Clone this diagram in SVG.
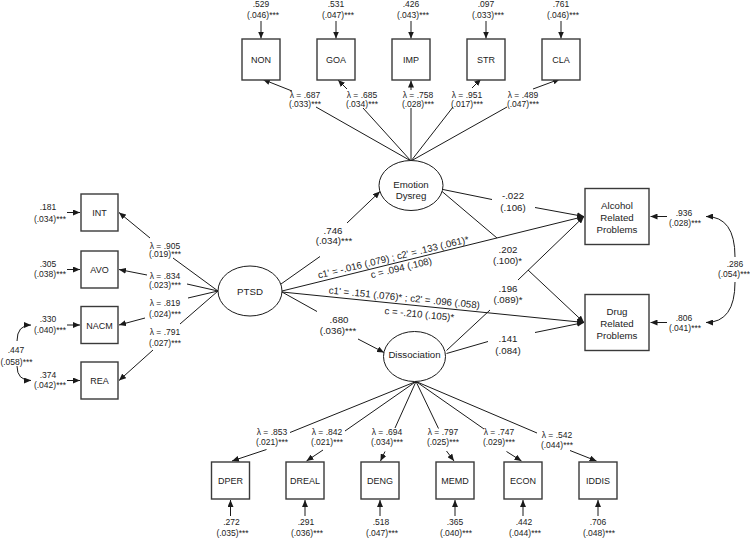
<svg xmlns="http://www.w3.org/2000/svg" width="750" height="541" viewBox="0 0 750 541">
<style>
.ln{stroke:#1a1a1a;stroke-width:1;fill:none}
.ar{marker-end:url(#ah)}
.box{fill:#fff;stroke:#3a3a3a;stroke-width:1.4}
.lat{fill:#fff;stroke:#1a1a1a;stroke-width:1}
text{font-family:"Liberation Sans",Arial,sans-serif;fill:#222;text-anchor:middle}
.s{font-size:8.5px}
.m{font-size:9.7px}
.n{font-size:9px}
.L{font-size:9.7px}
</style>
<defs>
<marker id="ah" markerUnits="userSpaceOnUse" markerWidth="7" markerHeight="6" refX="7" refY="3" orient="auto">
<path d="M0,0 L7,3 L0,6 z" fill="#1a1a1a"/>
</marker>
</defs>
<rect width="750" height="541" fill="#fff"/>

<g id="connectors">
<!-- Emotion Dysreg indicators -->
<line class="ln" x1="411" y1="161" x2="316" y2="107"/><line class="ln ar" x1="292" y1="91" x2="263" y2="79.5"/>
<line class="ln" x1="411" y1="161" x2="363" y2="108"/><line class="ln ar" x1="347" y1="89" x2="338" y2="80"/>
<line class="ln" x1="411" y1="161" x2="411" y2="108"/><line class="ln ar" x1="411" y1="90" x2="411" y2="80.5"/>
<line class="ln" x1="411" y1="161" x2="453" y2="107"/><line class="ln ar" x1="472" y1="88" x2="481" y2="79"/>
<line class="ln" x1="411" y1="161" x2="507" y2="107"/><line class="ln ar" x1="533" y1="89" x2="560" y2="79"/>
<!-- top errors -->
<line class="ln ar" x1="261" y1="21" x2="261" y2="38.5"/>
<line class="ln ar" x1="336" y1="21" x2="336" y2="38.5"/>
<line class="ln ar" x1="411" y1="21" x2="411" y2="38.5"/>
<line class="ln ar" x1="486" y1="21" x2="486" y2="38.5"/>
<line class="ln ar" x1="561" y1="21" x2="561" y2="38.5"/>
<!-- PTSD indicators -->
<line class="ln" x1="218" y1="291" x2="173" y2="258"/><line class="ln ar" x1="150" y1="238" x2="119" y2="212.5"/>
<line class="ln" x1="218" y1="291" x2="187" y2="284"/><line class="ln ar" x1="147" y1="275" x2="119" y2="269.5"/>
<line class="ln" x1="218" y1="291" x2="188" y2="298"/><line class="ln ar" x1="145" y1="318" x2="119" y2="325"/>
<line class="ln" x1="218" y1="291" x2="180" y2="324"/><line class="ln ar" x1="153" y1="350" x2="119" y2="380.5"/>
<!-- left errors -->
<line class="ln ar" x1="67" y1="212.5" x2="80" y2="212.5"/>
<line class="ln ar" x1="67" y1="269.5" x2="80" y2="269.5"/>
<line class="ln ar" x1="67" y1="325" x2="80" y2="325"/>
<line class="ln ar" x1="67" y1="380.5" x2="80" y2="380.5"/>
<path class="ln ar" d="M17,341 Q17,325 31,325"/>
<path class="ln ar" d="M17,366 Q17,380.5 31,380.5"/>
<!-- structural -->
<line class="ln" x1="281" y1="284" x2="320" y2="256.5"/><line class="ln ar" x1="347" y1="223" x2="380" y2="191.5"/>
<line class="ln" x1="282" y1="292" x2="317" y2="311.5"/><line class="ln ar" x1="358" y1="339" x2="384" y2="352.5"/>
<line class="ln ar" x1="282" y1="291" x2="584" y2="216.5"/>
<line class="ln ar" x1="282" y1="292" x2="584" y2="322.5"/>
<line class="ln" x1="443" y1="189.5" x2="492" y2="199.5"/><line class="ln ar" x1="535" y1="207.5" x2="584" y2="216.5"/>
<line class="ln" x1="441.5" y1="191" x2="497" y2="238"/><line class="ln ar" x1="528" y1="270" x2="584" y2="322.5"/>
<line class="ln" x1="446.5" y1="350.5" x2="490" y2="310"/><line class="ln ar" x1="518" y1="280" x2="584" y2="216.5"/>
<line class="ln" x1="446.5" y1="353.5" x2="488" y2="341.5"/><line class="ln ar" x1="535" y1="332.5" x2="584" y2="322.5"/>
<!-- outcome errors -->
<line class="ln ar" x1="667" y1="216.5" x2="650.5" y2="216.5"/>
<line class="ln ar" x1="667" y1="322.5" x2="650.5" y2="322.5"/>
<path class="ln ar" d="M735,257 Q735,216.5 706,216.5"/>
<path class="ln ar" d="M735,282 Q735,322.5 706,322.5"/>
<!-- Dissociation indicators -->
<line class="ln" x1="416" y1="381.5" x2="290" y2="432.5"/><line class="ln ar" x1="266.5" y1="449.5" x2="232" y2="461"/>
<line class="ln" x1="416" y1="381.5" x2="345" y2="431"/><line class="ln ar" x1="323" y1="450" x2="306.5" y2="461"/>
<line class="ln" x1="416" y1="381.5" x2="395" y2="428"/><line class="ln ar" x1="385" y1="451.5" x2="380.5" y2="461"/>
<line class="ln" x1="416" y1="381.5" x2="438.5" y2="428.5"/><line class="ln ar" x1="446.5" y1="451" x2="454" y2="461"/>
<line class="ln" x1="416" y1="381.5" x2="484" y2="429"/><line class="ln ar" x1="506.5" y1="451.5" x2="521.5" y2="461"/>
<line class="ln" x1="416" y1="381.5" x2="537" y2="433"/><line class="ln ar" x1="570" y1="450.5" x2="596.5" y2="461"/>
<!-- bottom errors -->
<line class="ln ar" x1="230.5" y1="516" x2="230.5" y2="500"/>
<line class="ln ar" x1="305" y1="516" x2="305" y2="500"/>
<line class="ln ar" x1="380" y1="516" x2="380" y2="500"/>
<line class="ln ar" x1="455" y1="516" x2="455" y2="500"/>
<line class="ln ar" x1="523" y1="516" x2="523" y2="500"/>
<line class="ln ar" x1="598" y1="516" x2="598" y2="500"/>
</g>

<g id="labels">
<!-- top errors -->
<text class="s" x="261" y="7">.529</text><text class="s" x="263" y="17.5">(.046)***</text>
<text class="s" x="336" y="7">.531</text><text class="s" x="338" y="17.5">(.047)***</text>
<text class="s" x="411" y="7">.426</text><text class="s" x="413" y="17.5">(.043)***</text>
<text class="s" x="486" y="7">.097</text><text class="s" x="488" y="17.5">(.033)***</text>
<text class="s" x="561" y="7">.761</text><text class="s" x="563" y="17.5">(.046)***</text>
<!-- top loadings -->
<text class="s" x="305" y="97.5">λ = .687</text><text class="s" x="305" y="106.5">(.033)***</text>
<text class="s" x="362" y="97.5">λ = .685</text><text class="s" x="362" y="106.5">(.034)***</text>
<text class="s" x="418" y="97.5">λ = .758</text><text class="s" x="418" y="106.5">(.028)***</text>
<text class="s" x="467" y="97.5">λ = .951</text><text class="s" x="467" y="106.5">(.017)***</text>
<text class="s" x="523" y="97.5">λ = .489</text><text class="s" x="523" y="106.5">(.047)***</text>
<!-- left errors -->
<text class="s" x="48" y="210">.181</text><text class="s" x="50" y="221.5">(.034)***</text>
<text class="s" x="48" y="266.7">.305</text><text class="s" x="50" y="277.3">(.038)***</text>
<text class="s" x="48" y="322.3">.330</text><text class="s" x="50" y="332.7">(.040)***</text>
<text class="s" x="48" y="377.7">.374</text><text class="s" x="50" y="388.3">(.042)***</text>
<text class="s" x="16" y="353.3">.447</text><text class="s" x="16.5" y="364.5">(.058)***</text>
<!-- left loadings -->
<text class="s" x="165" y="248.5">λ = .905</text><text class="s" x="165" y="257">(.019)***</text>
<text class="s" x="165" y="279.3">λ = .834</text><text class="s" x="165" y="288.3">(.023)***</text>
<text class="s" x="165" y="305.5">λ = .819</text><text class="s" x="165" y="317">(.024)***</text>
<text class="s" x="165" y="335">λ = .791</text><text class="s" x="165" y="345.5">(.027)***</text>
<!-- structural -->
<text class="m" x="333" y="234">.746</text><text class="m" x="334" y="244">(.034)***</text>
<text class="m" x="339" y="323.3">.680</text><text class="m" x="338" y="334">(.036)***</text>
<text class="m" x="513" y="199">-.022</text><text class="m" x="513" y="210.5">(.106)</text>
<text class="m" x="508" y="253.3">.202</text><text class="m" x="507.5" y="263.5">(.100)*</text>
<text class="m" x="508" y="291.7">.196</text><text class="m" x="508" y="303">(.089)*</text>
<text class="m" x="508" y="341.7">.141</text><text class="m" x="508" y="354">(.084)</text>
<text class="m" transform="translate(394,260.5) rotate(-13.5)">c1' = -.016 (.079) ; c2' = .133 (.061)*</text>
<text class="m" transform="translate(402,271) rotate(-13.5)">c = .094 (.108)</text>
<text class="m" transform="translate(404,301) rotate(5.7)">c1' = .151 (.076)* ; c2' = .096 (.058)</text>
<text class="m" transform="translate(419,317.5) rotate(5.7)">c = -.210 (.105)*</text>
<!-- outcome errors -->
<text class="s" x="684" y="215.5">.936</text><text class="s" x="685" y="225.5">(.028)***</text>
<text class="s" x="684" y="321">.806</text><text class="s" x="685" y="331">(.041)***</text>
<text class="s" x="735" y="267.3">.286</text><text class="s" x="734" y="277">(.054)***</text>
<!-- bottom loadings -->
<text class="s" x="272" y="435">λ = .853</text><text class="s" x="272" y="445">(.021)***</text>
<text class="s" x="327" y="435">λ = .842</text><text class="s" x="327" y="445">(.021)***</text>
<text class="s" x="387" y="435">λ = .694</text><text class="s" x="387" y="445">(.034)***</text>
<text class="s" x="443" y="435">λ = .797</text><text class="s" x="443" y="445">(.025)***</text>
<text class="s" x="499" y="435">λ = .747</text><text class="s" x="499" y="445">(.029)***</text>
<text class="s" x="557" y="438">λ = .542</text><text class="s" x="557" y="447.5">(.044)***</text>
<!-- bottom errors -->
<text class="s" x="231.5" y="525">.272</text><text class="s" x="232.5" y="535.7">(.035)***</text>
<text class="s" x="306" y="525">.291</text><text class="s" x="307" y="535.7">(.036)***</text>
<text class="s" x="381" y="525">.518</text><text class="s" x="382" y="535.7">(.047)***</text>
<text class="s" x="455" y="525">.365</text><text class="s" x="456" y="535.7">(.040)***</text>
<text class="s" x="524" y="525">.442</text><text class="s" x="525" y="535.7">(.044)***</text>
<text class="s" x="598" y="525">.706</text><text class="s" x="599" y="535.7">(.048)***</text>
</g>

<g id="NON"><rect class="box" x="242" y="39" width="38" height="41"/><text class="n" x="261" y="63">NON</text></g>
<g id="GOA"><rect class="box" x="317" y="39" width="38" height="41"/><text class="n" x="336" y="63">GOA</text></g>
<g id="IMP"><rect class="box" x="392" y="39" width="38" height="41"/><text class="n" x="411" y="63">IMP</text></g>
<g id="STR"><rect class="box" x="467" y="39" width="38" height="41"/><text class="n" x="486" y="63">STR</text></g>
<g id="CLA"><rect class="box" x="542" y="39" width="38" height="41"/><text class="n" x="561" y="63">CLA</text></g>

<g id="INT"><rect class="box" x="81" y="194" width="37" height="37"/><text class="n" x="99.5" y="216">INT</text></g>
<g id="AVO"><rect class="box" x="81" y="251" width="37" height="37"/><text class="n" x="99.5" y="273">AVO</text></g>
<g id="NACM"><rect class="box" x="81" y="306.5" width="37" height="37"/><text class="n" x="99.5" y="328.5">NACM</text></g>
<g id="REA"><rect class="box" x="81" y="362" width="37" height="37"/><text class="n" x="99.5" y="384">REA</text></g>

<g id="EmotionDysreg"><ellipse class="lat" cx="411" cy="185.5" rx="32" ry="25"/><text class="L" x="411" y="187.7">Emotion</text><text class="L" x="411" y="199">Dysreg</text></g>
<g id="PTSD"><ellipse class="lat" cx="250" cy="291" rx="32" ry="25"/><text class="L" x="250" y="295">PTSD</text></g>
<g id="Dissociation"><ellipse class="lat" cx="414.5" cy="356.5" rx="31" ry="25"/><text class="L" x="414.5" y="357.5">Dissociation</text></g>

<g id="Alcohol"><rect class="box" x="585" y="188.5" width="64" height="56"/><text class="L" x="617" y="208.5">Alcohol</text><text class="L" x="617" y="220.5">Related</text><text class="L" x="617" y="232.5">Problems</text></g>
<g id="Drug"><rect class="box" x="585" y="294.5" width="64" height="56"/><text class="L" x="617" y="314.5">Drug</text><text class="L" x="617" y="326.5">Related</text><text class="L" x="617" y="338.5">Problems</text></g>

<g id="DPER"><rect class="box" x="211.5" y="462" width="38" height="37"/><text class="n" x="230.5" y="484">DPER</text></g>
<g id="DREAL"><rect class="box" x="286" y="462" width="38" height="37"/><text class="n" x="305" y="484">DREAL</text></g>
<g id="DENG"><rect class="box" x="361" y="462" width="38" height="37"/><text class="n" x="380" y="484">DENG</text></g>
<g id="MEMD"><rect class="box" x="436" y="462" width="38" height="37"/><text class="n" x="455" y="484">MEMD</text></g>
<g id="ECON"><rect class="box" x="504" y="462" width="38" height="37"/><text class="n" x="523" y="484">ECON</text></g>
<g id="IDDIS"><rect class="box" x="579" y="462" width="38" height="37"/><text class="n" x="598" y="484">IDDIS</text></g>
</svg>
